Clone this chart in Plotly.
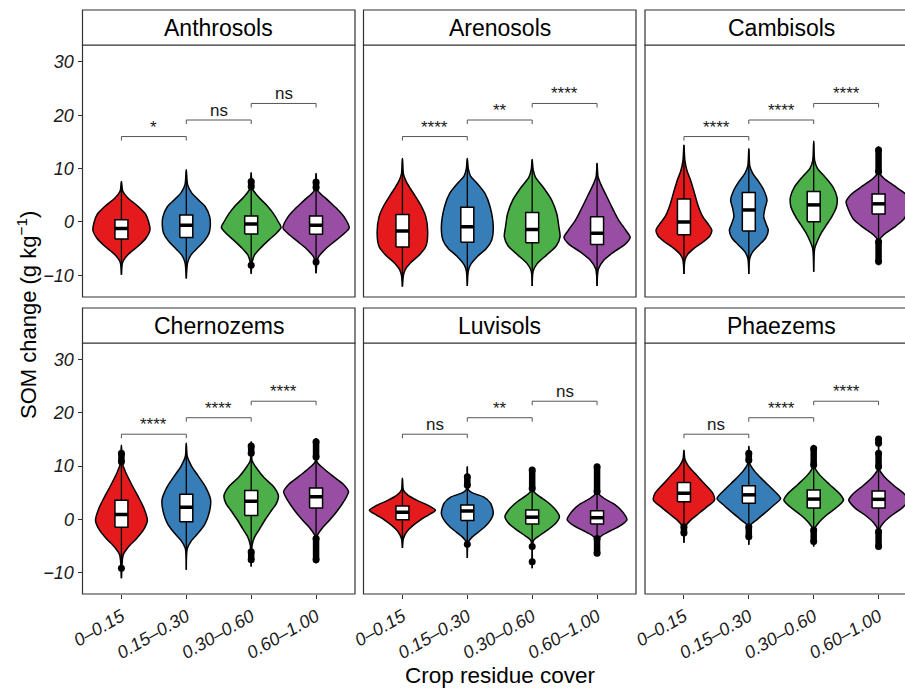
import plotly.graph_objects as go

# ---------------------------------------------------------------- data
SOILS = ["Anthrosols", "Arenosols", "Cambisols", "Chernozems", "Luvisols", "Phaezems"]
COVER = ["0–0.15", "0.15–0.30", "0.30–0.60", "0.60–1.00"]
COLORS = ["#E41A1C", "#377EB8", "#4DAF4A", "#984EA3"]

# box statistics (g kg-1), one value per cover class
Q1 = {
    "Anthrosols": [-3.2, -2.9, -2.25, -2.3],
    "Arenosols": [-4.7, -3.8, -3.9, -4.2],
    "Cambisols": [-2.4, -1.7, 0.06, 1.5],
    "Chernozems": [-1.5, -0.45, 0.7, 2.1],
    "Luvisols": [-0.1, -0.25, -0.9, -0.9],
    "Phaezems": [3.3, 3.0, 2.1, 2.1],
}
MEDIAN = {
    "Anthrosols": [-1.2, -0.6, -0.4, -0.6],
    "Arenosols": [-1.7, -0.9, -1.4, -2.1],
    "Cambisols": [0.0, 2.25, 3.2, 3.4],
    "Chernozems": [0.9, 2.25, 3.4, 4.25],
    "Luvisols": [1.3, 1.55, 0.4, 0.3],
    "Phaezems": [4.9, 4.6, 3.8, 3.75],
}
Q3 = {
    "Anthrosols": [0.4, 1.3, 1.1, 1.1],
    "Arenosols": [1.4, 2.75, 1.8, 1.0],
    "Cambisols": [4.3, 5.5, 5.7, 5.25],
    "Chernozems": [3.6, 4.7, 5.4, 5.9],
    "Luvisols": [2.5, 2.7, 1.75, 1.6],
    "Phaezems": [6.9, 6.3, 5.5, 5.3],
}
# observed range of each group
V_MAX = {
    "Anthrosols": [7.6, 9.8, 9.2, 9.1],
    "Arenosols": [11.9, 11.9, 11.7, 11.0],
    "Cambisols": [14.4, 13.7, 15.1, 14.1],
    "Chernozems": [13.9, 14.3, 14.6, 15.2],
    "Luvisols": [7.7, 9.9, 9.75, 10.1],
    "Phaezems": [13.0, 13.75, 13.9, 15.5],
}
V_MIN = {
    "Anthrosols": [-9.9, -10.6, -9.7, -9.6],
    "Arenosols": [-12.1, -12.0, -12.0, -12.0],
    "Cambisols": [-9.75, -9.75, -9.3, -8.1],
    "Chernozems": [-11.1, -9.5, -8.9, -8.25],
    "Luvisols": [-5.4, -7.3, -9.2, -6.7],
    "Phaezems": [-4.4, -4.8, -5.1, -5.4],
}
# kernel density outline: (SOM change, half width in category units), top to bottom
PROFILE = {
    "Anthrosols": [
        [(5.8, .02), (4.5, .1), (3, .25), (1.5, .37), (0, .42), (-1.5, .44), (-3, .38), (-4.5, .26), (-6, .11), (-7.5, .02)],
        [(7, .02), (5.5, .08), (4.1, .19), (2.9, .29), (1.0, .36), (-0.6, .37), (-2.1, .35), (-3.5, .28), (-4.8, .18), (-6.2, .07), (-7.6, .02)],
        [(6.2, .02), (4.6, .12), (3, .25), (1.6, .34), (0, .42), (-1, .46), (-2.2, .38), (-3.4, .27), (-4.8, .15), (-6.2, .05), (-7.5, .015)],
        [(6.0, .02), (4.1, .18), (2.5, .32), (1, .43), (-1.1, .51), (-2.2, .43), (-3.5, .3), (-5, .15), (-6.5, .04), (-7.5, .015)],
    ],
    "Arenosols": [
        [(9.0, .015), (7.8, .05), (6.5, .11), (5.0, .19), (3.0, .29), (1.0, .36), (-2.1, .39), (-4.6, .36), (-6.2, .26), (-7.6, .13), (-9.0, .04), (-10, .015)],
        [(10, .015), (8.6, .05), (7.4, .14), (5.4, .27), (2.9, .35), (-0.9, .40), (-3.4, .375), (-5.0, .29), (-6.4, .16), (-8.0, .05), (-9.2, .015)],
        [(9.8, .015), (8.4, .05), (6.5, .17), (4.1, .3), (1.5, .38), (-0.8, .41), (-2.75, .43), (-4.5, .37), (-6.2, .22), (-7.75, .08), (-9.2, .015)],
        [(8.5, .015), (7.0, .06), (5.0, .14), (2.5, .24), (0.4, .33), (-1.5, .44), (-2.9, .51), (-4.2, .43), (-5.6, .26), (-7.2, .1), (-8.8, .02)],
    ],
    "Cambisols": [
        [(11.5, .015), (9.5, .05), (7.9, .1), (5.5, .16), (3, .22), (1.0, .29), (-0.5, .38), (-1.5, .43), (-2.6, .4), (-3.7, .3), (-5.0, .15), (-6.2, .05), (-7.2, .015)],
        [(10.5, .015), (9.1, .06), (7.6, .15), (6.0, .23), (4.1, .28), (2.6, .25), (1.0, .23), (-0.5, .27), (-1.5, .30), (-3.0, .26), (-4.3, .16), (-5.6, .06), (-6.8, .015)],
        [(11.5, .015), (10, .06), (8.5, .17), (6.5, .3), (4.6, .36), (2.8, .35), (1.0, .28), (-0.5, .2), (-2.0, .12), (-3.5, .06), (-5.0, .015)],
        [(9.2, .015), (8.2, .08), (6.8, .24), (5.2, .42), (3.8, .50), (2.2, .46), (0.4, .38), (-1.0, .24), (-2.3, .09), (-3.3, .015)],
    ],
    "Chernozems": [
        [(10.5, .015), (9.0, .06), (6.5, .16), (4.0, .27), (2.0, .35), (-0.2, .40), (-2.2, .33), (-3.8, .22), (-5.3, .1), (-6.6, .03), (-7.6, .015)],
        [(11.8, .015), (10, .08), (8.2, .18), (6.0, .3), (3.6, .375), (1.1, .35), (-0.8, .29), (-2.5, .19), (-4.0, .08), (-5.5, .015)],
        [(11.0, .015), (9.5, .09), (7.8, .2), (6.2, .34), (4.4, .42), (3.0, .39), (1.6, .31), (0.0, .22), (-1.8, .13), (-3.4, .05), (-4.8, .015)],
        [(10.8, .015), (9.5, .12), (8.2, .25), (6.6, .42), (5.2, .50), (3.6, .44), (1.8, .34), (0, .22), (-1.6, .1), (-2.8, .03), (-3.4, .01)],
    ],
    "Luvisols": [
        [(5.5, .015), (4.6, .08), (3.6, .22), (2.6, .4), (1.7, .51), (0.8, .4), (-0.1, .28), (-1.2, .16), (-2.3, .07), (-3.6, .015)],
        [(5.6, .015), (5.0, .07), (4.2, .25), (3.0, .36), (1.1, .40), (-0.3, .35), (-1.4, .27), (-2.5, .16), (-3.4, .07), (-4.3, .015)],
        [(5.4, .015), (4.4, .1), (3.2, .24), (1.8, .36), (0.5, .42), (-0.8, .36), (-2.0, .24), (-3.0, .12), (-4.0, .02)],
        [(5.0, .015), (4.0, .1), (2.8, .27), (1.3, .4), (-0.1, .46), (-1.2, .36), (-2.2, .2), (-3.0, .08), (-3.8, .015)],
    ],
    "Phaezems": [
        [(11.3, .015), (10, .07), (8.5, .18), (6.5, .33), (4.8, .45), (3.6, .47), (2.2, .34), (1.0, .22), (-0.2, .1), (-1.2, .03), (-2.0, .01)],
        [(10.5, .015), (9.2, .08), (7.6, .2), (5.6, .37), (3.9, .49), (2.6, .38), (1.1, .24), (-0.2, .11), (-1.0, .03), (-1.6, .01)],
        [(9.8, .015), (8.4, .09), (6.6, .24), (4.8, .4), (3.6, .46), (2.3, .36), (0.8, .2), (-0.6, .08), (-1.8, .015)],
        [(9.3, .015), (8.0, .09), (6.3, .24), (4.7, .4), (3.6, .46), (2.2, .37), (0.8, .21), (-0.6, .08), (-1.8, .015)],
    ],
}
# isolated outliers
OUT_POINTS = {
    "Anthrosols": [[], [], [-8.1], [-7.5]],
    "Arenosols": [[], [], [], []],
    "Cambisols": [[], [], [], []],
    "Chernozems": [[-9.2], [], [], []],
    "Luvisols": [[], [-4.7], [-5.1, -8.0], []],
    "Phaezems": [[], [], [], []],
}
# runs of overlapping outliers (low, high)
OUT_SPANS = {
    "Anthrosols": [[], [], [(6.6, 7.6)], [(6.4, 7.5)]],
    "Arenosols": [[], [], [], []],
    "Cambisols": [[], [], [], [(9.4, 13.5), (-7.4, -3.7)]],
    "Chernozems": [[(10.8, 12.4)], [], [(12.4, 13.8), (-7.6, -6.1)], [(11.7, 14.6), (-7.6, -3.6)]],
    "Luvisols": [[], [(6.4, 8.0)], [(5.8, 9.25)], [(5.2, 9.9), (-6.4, -3.6)]],
    "Phaezems": [[(-2.6, -1.4)], [(11.1, 12.4), (-3.3, -1.4)], [(10.2, 13.3), (-4.2, -2.0)],
                 [(14.3, 15.1), (9.9, 12.4), (-5.1, -2.3)]],
}
# pairwise comparisons between adjacent cover classes
SIG = {
    "Anthrosols": ["*", "ns", "ns"],
    "Arenosols": ["****", "**", "****"],
    "Cambisols": ["****", "****", "****"],
    "Chernozems": ["****", "****", "****"],
    "Luvisols": ["ns", "**", "ns"],
    "Phaezems": ["ns", "****", "****"],
}
BRACKET_Y = [16.0, 19.1, 22.2]
Y_TICKS = [-10, 0, 10, 20, 30]

# ---------------------------------------------------------------- layout geometry
W, H = 905, 688
COL_PX = [(82.5, 355.0), (363.5, 636.0), (645.0, 917.5)]
ROW_PX = [(45.0, 297.0), (343.0, 594.0)]
STRIP_H = 35.0
Y_RANGE = [-14.05, 33.15]
X_LO, X_HI = 0.4, 4.6
UNIT_PX = (COL_PX[0][1] - COL_PX[0][0]) / (X_HI - X_LO)
FONT = "Liberation Sans, Arial, sans-serif"
BOX_W = 0.2

fig = go.Figure()
shapes, annotations = [], []
layout_axes = {}


def add_line(xs, ys, xa, ya, **kw):
    fig.add_trace(go.Scatter(x=xs, y=ys, xaxis=xa, yaxis=ya, hoverinfo="skip",
                             showlegend=False, **kw))


for i, soil in enumerate(SOILS):
    row, col = divmod(i, 3)
    sfx = "" if i == 0 else str(i + 1)
    xa, ya = "x" + sfx, "y" + sfx
    x0px, x1px = COL_PX[col]
    y0px, y1px = ROW_PX[row]

    dom_x1 = min(x1px, W) / W
    x_hi = X_LO + (min(x1px, W) - x0px) / UNIT_PX
    tickfont = dict(family=FONT, size=18, color="#1a1a1a", style="italic")
    layout_axes["xaxis" + sfx] = dict(
        domain=[x0px / W, dom_x1], range=[X_LO, x_hi], anchor=ya, automargin=False,
        tickvals=[1, 2, 3, 4], ticktext=COVER,
        showticklabels=(row == 1), ticks="outside" if row == 1 else "",
        ticklen=4, tickcolor="#333333", tickwidth=1, tickangle=-30, tickfont=tickfont,
        showgrid=False, zeroline=False, showline=False, fixedrange=True,
    )
    layout_axes["yaxis" + sfx] = dict(
        domain=[1 - y1px / H, 1 - y0px / H], range=Y_RANGE, anchor=xa, automargin=False,
        tickvals=Y_TICKS, showticklabels=(col == 0),
        ticks="outside" if col == 0 else "", ticklen=4, tickcolor="#333333", tickwidth=1,
        tickfont=tickfont,
        showgrid=False, zeroline=False, showline=False, fixedrange=True,
    )

    for k in range(4):
        c = k + 1
        prof = PROFILE[soil][k]
        ys = [V_MAX[soil][k]] + [p[0] for p in prof] + [V_MIN[soil][k]]
        hw = [0.0] + [p[1] for p in prof] + [0.0]
        px = [c + w for w in hw] + [c - w for w in reversed(hw)]
        py = ys + list(reversed(ys))
        # violin body
        add_line(px, py, xa, ya, mode="lines", fill="toself", fillcolor=COLORS[k],
                 line=dict(color="black", width=1.5, shape="spline", smoothing=0.7))
        # whisker
        add_line([c, c], [V_MIN[soil][k], V_MAX[soil][k]], xa, ya, mode="lines",
                 line=dict(color="black", width=1.3))
        # outliers
        for lo, hi in OUT_SPANS[soil][k]:
            add_line([c, c], [lo, hi], xa, ya, mode="lines+markers",
                     line=dict(color="black", width=6.5), marker=dict(color="black", size=7))
        if OUT_POINTS[soil][k]:
            add_line([c] * len(OUT_POINTS[soil][k]), OUT_POINTS[soil][k], xa, ya,
                     mode="markers", marker=dict(color="black", size=7))
        # box (interquartile range) and median
        bl, br = c - BOX_W / 2, c + BOX_W / 2
        add_line([bl, br, br, bl, bl],
                 [Q1[soil][k], Q1[soil][k], Q3[soil][k], Q3[soil][k], Q1[soil][k]], xa, ya,
                 mode="lines", fill="toself", fillcolor="white",
                 line=dict(color="black", width=1.5))
        add_line([bl, br], [MEDIAN[soil][k]] * 2, xa, ya, mode="lines",
                 line=dict(color="black", width=3.5))

    # significance brackets
    for j, lab in enumerate(SIG[soil]):
        yb = BRACKET_Y[j]
        add_line([j + 1, j + 1, j + 2, j + 2], [yb - 0.75, yb, yb, yb - 0.75], xa, ya,
                 mode="lines", line=dict(color="#555555", width=1))
        annotations.append(dict(
            x=j + 1.5, y=yb, xref=xa, yref=ya, text=lab, showarrow=False,
            xanchor="center", yanchor="bottom", yshift=-2,
            font=dict(family=FONT, size=17, color="#1a1a1a")))

    # panel border and strip
    shapes.append(dict(type="rect", xref="paper", yref="paper",
                       x0=x0px / W, x1=x1px / W, y0=1 - y1px / H, y1=1 - y0px / H,
                       line=dict(color="#333333", width=1.2), fillcolor="rgba(0,0,0,0)"))
    shapes.append(dict(type="rect", xref="paper", yref="paper",
                       x0=x0px / W, x1=x1px / W, y0=1 - y0px / H, y1=1 - (y0px - STRIP_H) / H,
                       line=dict(color="#333333", width=1.2), fillcolor="white"))
    annotations.append(dict(
        x=(x0px + x1px) / 2 / W, y=1 - (y0px - STRIP_H / 2) / H, xref="paper", yref="paper",
        text=soil, showarrow=False, xanchor="center", yanchor="middle",
        font=dict(family=FONT, size=23, color="black")))

# axis titles
annotations.append(dict(
    x=27 / W, y=1 - 315 / H, xref="paper", yref="paper", textangle=-90,
    text="SOM change (g kg<sup>−1</sup>)", showarrow=False,
    xanchor="center", yanchor="middle", font=dict(family=FONT, size=22, color="black")))
annotations.append(dict(
    x=500 / W, y=1 - 675 / H, xref="paper", yref="paper",
    text="Crop residue cover", showarrow=False,
    xanchor="center", yanchor="middle", font=dict(family=FONT, size=22.5, color="black")))

fig.update_layout(
    width=W, height=H, margin=dict(l=0, r=0, t=0, b=0, autoexpand=False),
    paper_bgcolor="white", plot_bgcolor="white",
    shapes=shapes, annotations=annotations, showlegend=False,
    **layout_axes,
)
fig.write_html("out.html")
